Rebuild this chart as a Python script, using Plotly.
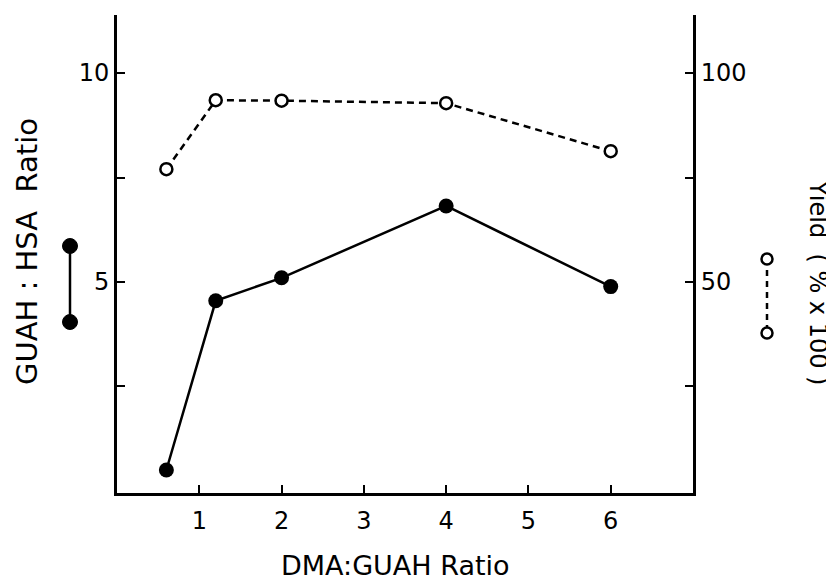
import plotly.graph_objects as go

# Data
dma_guah_ratio = [0.6, 1.2, 2.0, 4.0, 6.0]
guah_hsa_ratio = [0.5, 4.55, 5.1, 6.82, 4.89]
yield_pct = [77, 93.5, 93.4, 92.8, 81.3]

x_ticks = [1, 2, 3, 4, 5, 6]
left_ticks = [2.5, 5, 7.5, 10]
left_ticktext = ["", "5", "", "10"]
right_ticks = [25, 50, 75, 100]
right_ticktext = ["", "50", "", "100"]

FONT = "DejaVu Sans"
OFF = 8  # page body margin
L, R, T, B = 117, 693, 15, 493  # target plot box in screenshot pixels
W, H = 834 - OFF, 580 - OFF


def px(x):
    return (x - L) / (R - L)


def py(y):
    return (B - y) / (B - T)


fig = go.Figure()
fig.add_trace(go.Scatter(
    x=dma_guah_ratio, y=guah_hsa_ratio, mode="lines+markers",
    line=dict(color="black", width=2.5),
    marker=dict(color="black", size=15, symbol="circle"),
    showlegend=False, cliponaxis=False))
fig.add_trace(go.Scatter(
    x=dma_guah_ratio, y=yield_pct, mode="lines+markers", yaxis="y2",
    line=dict(color="black", width=2.5, dash="7px,5px"),
    marker=dict(color="white", size=12, symbol="circle",
                line=dict(color="black", width=2.5)),
    showlegend=False, cliponaxis=False))

axis_common = dict(showgrid=False, zeroline=False, showline=True,
                   linecolor="black", linewidth=3, ticks="inside",
                   ticklen=8, tickwidth=2, tickcolor="black",
                   tickfont=dict(family=FONT, size=24, color="black"))

fig.update_layout(
    width=W, height=H,
    margin=dict(l=L - OFF, r=W - (R - OFF), t=T - OFF, b=H - (B - OFF)),
    paper_bgcolor="white", plot_bgcolor="white",
    xaxis=dict(range=[0, 7], tickvals=x_ticks, ticklabelstandoff=4,
               **axis_common),
    yaxis=dict(range=[-0.05, 11.39], tickvals=left_ticks,
               ticktext=left_ticktext, ticklabelstandoff=0, **axis_common),
    yaxis2=dict(range=[-0.5, 113.9], tickvals=right_ticks,
                ticktext=right_ticktext, overlaying="y", side="right",
                ticklabelstandoff=0, **axis_common),
)

# Axis titles
fig.add_annotation(text="DMA:GUAH Ratio", xref="paper", yref="paper",
                   x=px(395), y=py(565), showarrow=False,
                   xanchor="center", yanchor="middle",
                   font=dict(family=FONT, size=27, color="black"))
fig.add_annotation(text="GUAH : HSA  Ratio", xref="paper", yref="paper",
                   x=px(27), y=py(252), showarrow=False, textangle=-90,
                   xanchor="center", yanchor="middle",
                   font=dict(family=FONT, size=29, color="black"))
fig.add_annotation(text="Yield  ( % x 100 )", xref="paper", yref="paper",
                   x=px(818), y=py(282), showarrow=False, textangle=90,
                   xanchor="center", yanchor="middle",
                   font=dict(family=FONT, size=24, color="black"))

# Legend glyphs beside axis titles
shapes = []
shapes.append(dict(type="line", xref="paper", yref="paper",
                   x0=px(70), x1=px(70), y0=py(246), y1=py(322),
                   line=dict(color="black", width=2.5)))
for yy in (246, 322):
    shapes.append(dict(type="circle", xref="paper", yref="paper",
                       xsizemode="pixel", ysizemode="pixel",
                       xanchor=px(70), yanchor=py(yy),
                       x0=-7.5, x1=7.5, y0=-7.5, y1=7.5,
                       fillcolor="black", line=dict(color="black", width=1)))
shapes.append(dict(type="line", xref="paper", yref="paper",
                   x0=px(767), x1=px(767), y0=py(259), y1=py(333),
                   line=dict(color="black", width=2.5, dash="6px,5px")))
for yy in (259, 333):
    shapes.append(dict(type="circle", xref="paper", yref="paper",
                       xsizemode="pixel", ysizemode="pixel",
                       xanchor=px(767), yanchor=py(yy),
                       x0=-5.5, x1=5.5, y0=-5.5, y1=5.5,
                       fillcolor="white", line=dict(color="black", width=2.5)))
fig.update_layout(shapes=shapes)

fig.write_html("out.html")
